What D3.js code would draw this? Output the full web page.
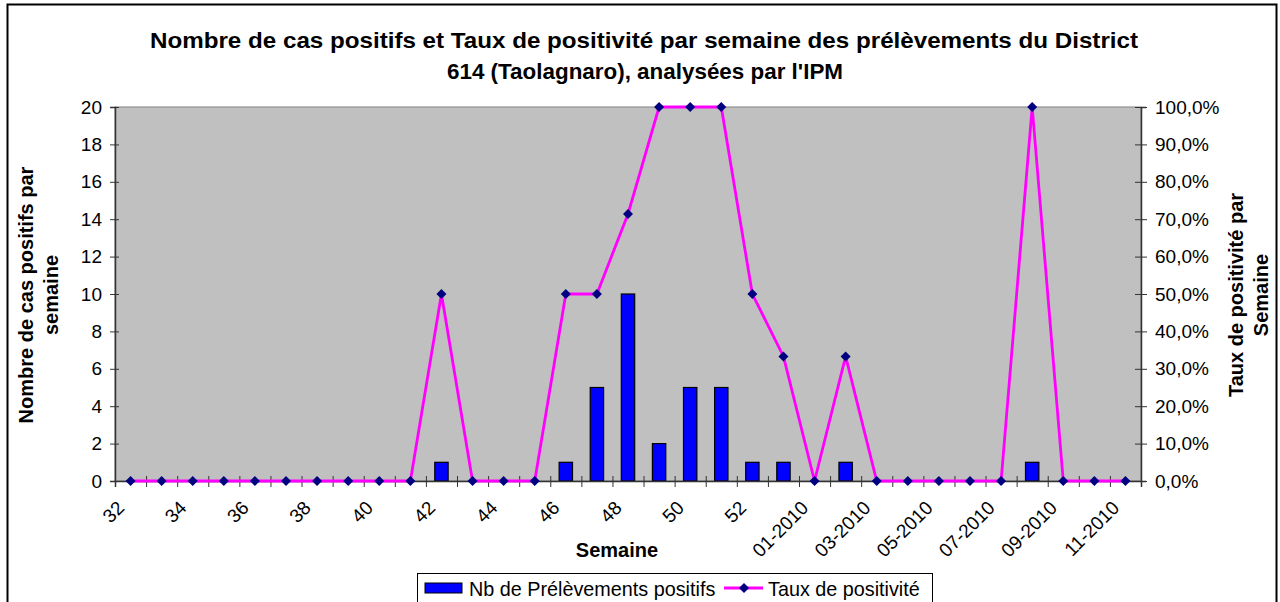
<!DOCTYPE html>
<html>
<head>
<meta charset="utf-8">
<script src="https://cdnjs.cloudflare.com/ajax/libs/d3/7.8.5/d3.min.js"></script>
<style>
  body { margin: 0; background: #fff; }
  text { font-family: Arial, "Liberation Sans", sans-serif; fill: #000; }
</style>
</head>
<body>
<div id="chart"></div>
<script>
// weeks 32..53 of 2009, then 01..11 of 2010
var weeks = ["32","33","34","35","36","37","38","39","40","41","42","43","44","45","46","47","48","49","50","51","52","53",
  "01-2010","02-2010","03-2010","04-2010","05-2010","06-2010","07-2010","08-2010","09-2010","10-2010","11-2010"];
var nbPositifs = [0,0,0,0,0,0,0,0,0,0,1,0,0,0,1,5,10,2,5,5,1,1,0,1,0,0,0,0,0,1,0,0,0];
var tauxPositivite = [0,0,0,0,0,0,0,0,0,0,0.5,0,0,0,0.5,0.5,0.714,1,1,1,0.5,0.333,0,0.333,0,0,0,0,0,1,0,0,0];
var leftTicks = [0,2,4,6,8,10,12,14,16,18,20];
var rightTicks = [0,0.1,0.2,0.3,0.4,0.5,0.6,0.7,0.8,0.9,1];

var W = 1280, H = 602;
var plot = {left: 115, right: 1141, top: 107, bottom: 481};

var svg = d3.select("#chart").append("svg")
    .attr("width", W)
    .attr("height", H);

// outer chart border
svg.append("rect")
    .attr("x", 7.5).attr("y", 4.5)
    .attr("width", 1269).attr("height", 620)
    .attr("fill", "#fff")
    .attr("stroke", "#000")
    .attr("stroke-width", 2);

var x = d3.scaleBand()
    .domain(weeks)
    .range([plot.left, plot.right]);
var xEdge = d3.scaleLinear()
    .domain([0, weeks.length])
    .range([plot.left, plot.right]);
var yLeft = d3.scaleLinear().domain([0, 20]).range([plot.bottom, plot.top]);
var yRight = d3.scaleLinear().domain([0, 1]).range([plot.bottom, plot.top]);

// plot area background
svg.append("rect")
    .attr("x", plot.left).attr("y", plot.top)
    .attr("width", plot.right - plot.left)
    .attr("height", plot.bottom - plot.top)
    .attr("fill", "#c0c0c0")
    .attr("stroke", "#808080")
    .attr("stroke-width", 1);

// bars
var barW = x.bandwidth() * 0.43;
svg.selectAll(".bar")
  .data(nbPositifs.map(function(v, i) { return {week: weeks[i], value: v}; }).filter(function(d) { return d.value > 0; }))
  .enter()
  .append("rect")
    .attr("class", "bar")
    .attr("x", function(d) { return x(d.week) + x.bandwidth() / 2 - barW / 2; })
    .attr("y", function(d) { return yLeft(d.value); })
    .attr("width", barW)
    .attr("height", function(d) { return yLeft(0) - yLeft(d.value); })
    .attr("fill", "#0000ff")
    .attr("stroke", "#000")
    .attr("stroke-width", 1.2);

// left axis
var gl = svg.append("g")
    .attr("transform", "translate(" + plot.left + ",0)")
    .call(d3.axisLeft(yLeft).tickValues(leftTicks).tickSize(5).tickPadding(8));
gl.selectAll(".tick line").attr("x1", 4).attr("x2", -5);

// right axis
var gr = svg.append("g")
    .attr("transform", "translate(" + plot.right + ",0)")
    .call(d3.axisRight(yRight).tickValues(rightTicks).tickSize(5).tickPadding(9)
      .tickFormat(function(d) { return d3.format(".1f")(d * 100).replace(".", ",") + "%"; }));
gr.selectAll(".tick line").attr("x1", -6).attr("x2", 6);

// bottom axis (ticks between categories)
var gb = svg.append("g")
    .attr("transform", "translate(0," + plot.bottom + ")")
    .call(d3.axisBottom(xEdge).tickValues(d3.range(0, weeks.length + 1)).tickSize(6).tickFormat(""));
gb.selectAll(".tick line").attr("y1", -5).attr("y2", 6);

[gl, gr, gb].forEach(function(g) {
  g.select(".domain").attr("stroke", "#333").attr("stroke-width", 1.5);
  g.selectAll(".tick line").attr("stroke", "#333");
  g.selectAll("text").style("font-size", "19px").attr("font-family", "Arial, 'Liberation Sans', sans-serif");
});

// rotated x labels, every other week
svg.selectAll(".xlabel")
  .data(weeks.filter(function(d, i) { return i % 2 === 0; }))
  .enter()
  .append("text")
    .attr("class", "xlabel")
    .attr("text-anchor", "end")
    .style("font-size", "19px")
    .attr("transform", function(d) {
      return "translate(" + (x(d) + x.bandwidth() / 2 - 5) + "," + (plot.bottom + 28) + ") rotate(-45)";
    })
    .text(function(d) { return d; });

// line + markers
var line = d3.line()
    .x(function(d, i) { return x(weeks[i]) + x.bandwidth() / 2; })
    .y(function(d) { return yRight(d); });

svg.append("path")
    .datum(tauxPositivite)
    .attr("d", line)
    .attr("fill", "none")
    .attr("stroke", "#ff00ff")
    .attr("stroke-width", 2.8);

svg.selectAll(".marker")
  .data(tauxPositivite)
  .enter()
  .append("path")
    .attr("class", "marker")
    .attr("d", d3.symbol().type(d3.symbolDiamond2).size(64))
    .attr("transform", function(d, i) {
      return "translate(" + (x(weeks[i]) + x.bandwidth() / 2) + "," + yRight(d) + ")";
    })
    .attr("fill", "#000080");

// title
svg.append("text")
    .attr("x", 644).attr("y", 48)
    .attr("text-anchor", "middle")
    .attr("textLength", 988)
    .attr("lengthAdjust", "spacingAndGlyphs")
    .style("font-size", "22px")
    .style("font-weight", "bold")
    .text("Nombre de cas positifs et Taux de positivité par semaine des prélèvements du District");
svg.append("text")
    .attr("x", 645).attr("y", 79)
    .attr("text-anchor", "middle")
    .attr("textLength", 396)
    .attr("lengthAdjust", "spacingAndGlyphs")
    .style("font-size", "22px")
    .style("font-weight", "bold")
    .text("614 (Taolagnaro), analysées par l'IPM");

// axis titles
var ylab = svg.append("text")
    .attr("transform", "translate(33,295) rotate(-90)")
    .attr("text-anchor", "middle")
    .style("font-size", "20px")
    .style("font-weight", "bold");
ylab.append("tspan").attr("x", 0).attr("dy", 0).text("Nombre de cas positifs par");
ylab.append("tspan").attr("x", 0).attr("dy", 25).text("semaine");

var yrlab = svg.append("text")
    .attr("transform", "translate(1243,295) rotate(-90)")
    .attr("text-anchor", "middle")
    .style("font-size", "20px")
    .style("font-weight", "bold");
yrlab.append("tspan").attr("x", 0).attr("dy", 0).text("Taux de positivité par");
yrlab.append("tspan").attr("x", 0).attr("dy", 25).text("Semaine");

svg.append("text")
    .attr("x", 617).attr("y", 557)
    .attr("text-anchor", "middle")
    .style("font-size", "20px")
    .style("font-weight", "bold")
    .text("Semaine");

// legend
var lg = svg.append("g").attr("transform", "translate(417,573)");
lg.append("rect")
    .attr("x", 0.5).attr("y", 0.5)
    .attr("width", 515).attr("height", 40)
    .attr("fill", "#fff")
    .attr("stroke", "#000")
    .attr("stroke-width", 1);
lg.append("rect")
    .attr("x", 8).attr("y", 10)
    .attr("width", 37).attr("height", 10)
    .attr("fill", "#0000ff")
    .attr("stroke", "#000");
lg.append("text")
    .attr("x", 52).attr("y", 23)
    .style("font-size", "19.8px")
    .text("Nb de Prélèvements positifs");
lg.append("line")
    .attr("x1", 307).attr("x2", 346)
    .attr("y1", 15).attr("y2", 15)
    .attr("stroke", "#ff00ff")
    .attr("stroke-width", 2.8);
lg.append("path")
    .attr("d", d3.symbol().type(d3.symbolDiamond2).size(64))
    .attr("transform", "translate(327,15)")
    .attr("fill", "#000080");
lg.append("text")
    .attr("x", 351).attr("y", 23)
    .style("font-size", "19.8px")
    .text("Taux de positivité");
</script>
</body>
</html>
